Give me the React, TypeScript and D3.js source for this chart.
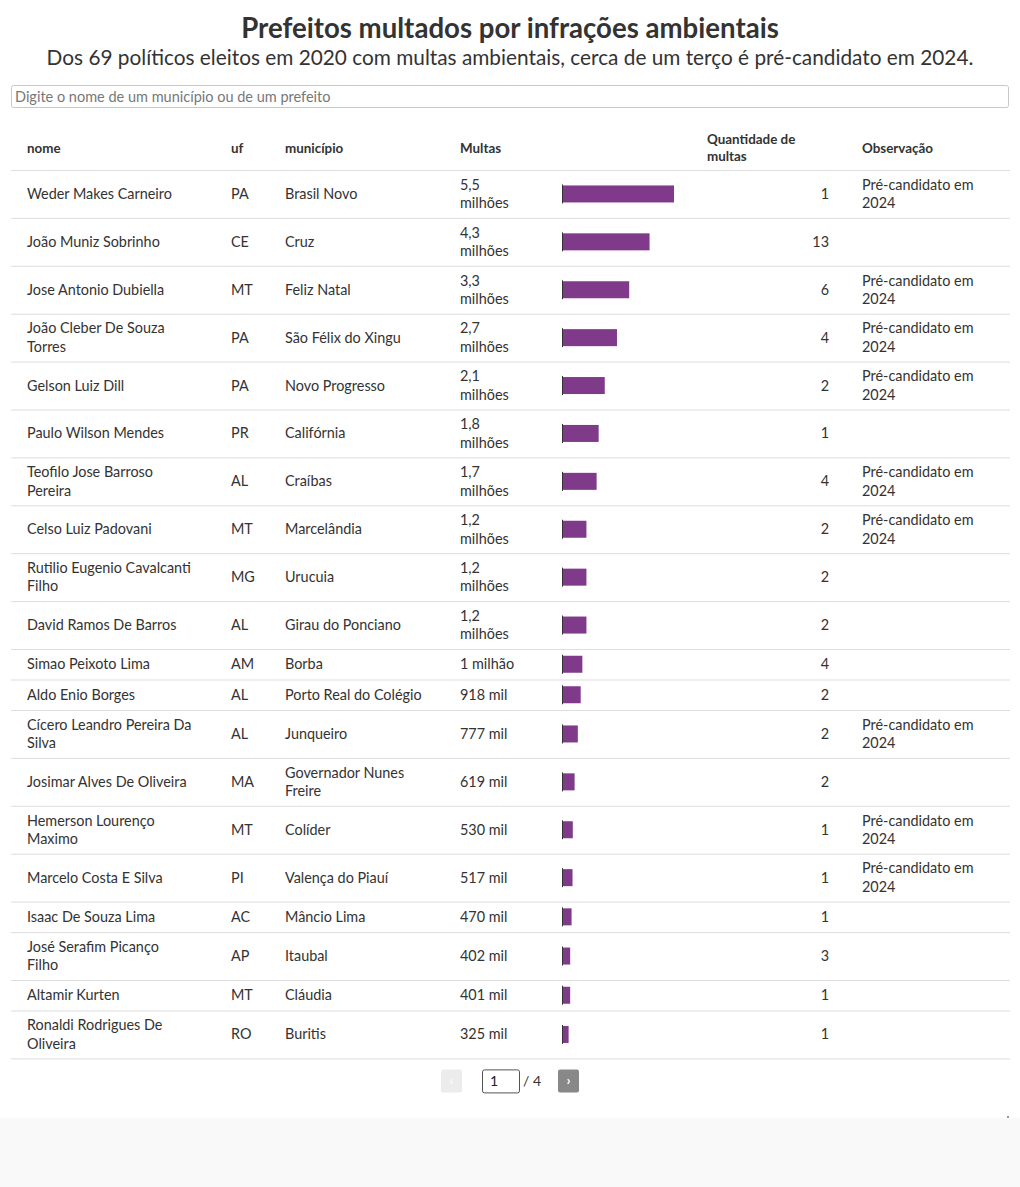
import React from 'react';
import * as d3 from 'd3';

const title = 'Prefeitos multados por infrações ambientais';
const subtitle = 'Dos 69 políticos eleitos em 2020 com multas ambientais, cerca de um terço é pré-candidato em 2024.';
const searchPlaceholder = 'Digite o nome de um município ou de um prefeito';

const headers = ['nome', 'uf', 'município', 'Multas', 'Quantidade de multas', 'Observação'];

const names = [
  'Weder Makes Carneiro', 'João Muniz Sobrinho', 'Jose Antonio Dubiella', 'João Cleber De Souza Torres',
  'Gelson Luiz Dill', 'Paulo Wilson Mendes', 'Teofilo Jose Barroso Pereira', 'Celso Luiz Padovani',
  'Rutilio Eugenio Cavalcanti Filho', 'David Ramos De Barros', 'Simao Peixoto Lima', 'Aldo Enio Borges',
  'Cícero Leandro Pereira Da Silva', 'Josimar Alves De Oliveira', 'Hemerson Lourenço Maximo',
  'Marcelo Costa E Silva', 'Isaac De Souza Lima', 'José Serafim Picanço Filho', 'Altamir Kurten',
  'Ronaldi Rodrigues De Oliveira',
];
const ufs = ['PA', 'CE', 'MT', 'PA', 'PA', 'PR', 'AL', 'MT', 'MG', 'AL', 'AM', 'AL', 'AL', 'MA', 'MT', 'PI', 'AC', 'AP', 'MT', 'RO'];
const municipios = [
  'Brasil Novo', 'Cruz', 'Feliz Natal', 'São Félix do Xingu', 'Novo Progresso', 'Califórnia', 'Craíbas',
  'Marcelândia', 'Urucuia', 'Girau do Ponciano', 'Borba', 'Porto Real do Colégio', 'Junqueiro',
  'Governador Nunes Freire', 'Colíder', 'Valença do Piauí', 'Mâncio Lima', 'Itaubal', 'Cláudia', 'Buritis',
];
const multasValues = [
  5.5e6, 4.3e6, 3.3e6, 2.7e6, 2.1e6, 1.8e6, 1.7e6, 1.2e6, 1.2e6, 1.2e6,
  1.0e6, 918e3, 777e3, 619e3, 530e3, 517e3, 470e3, 402e3, 401e3, 325e3,
];
const multasLabels = [
  '5,5 milhões', '4,3 milhões', '3,3 milhões', '2,7 milhões', '2,1 milhões', '1,8 milhões', '1,7 milhões',
  '1,2 milhões', '1,2 milhões', '1,2 milhões', '1 milhão', '918 mil', '777 mil', '619 mil', '530 mil',
  '517 mil', '470 mil', '402 mil', '401 mil', '325 mil',
];
const quantidades = [1, 13, 6, 4, 2, 1, 4, 2, 2, 2, 4, 2, 2, 2, 1, 1, 1, 3, 1, 1];
const PC = 'Pré-candidato em 2024';
const observacoes = [PC, '', PC, PC, PC, '', PC, PC, '', '', '', '', PC, '', PC, PC, '', '', '', ''];
const totalPages = 4;

const FONT = "Lato, 'Source Sans Pro', 'Noto Sans', sans-serif";
const W = 1020;
const H = 1187;
const BODY_SIZE = 14.4;
const LINE = 18.5;
const PAD = 10.9;
const MIN_ROW = 30.5;

let ctx: CanvasRenderingContext2D | null = null;
function measure(text: string, size: number, weight = 'normal') {
  if (!ctx) ctx = document.createElement('canvas').getContext('2d');
  ctx!.font = `${weight} ${size}px ${FONT}`;
  return ctx!.measureText(text).width;
}
function wrap(text: string, maxW: number, size = BODY_SIZE): string[] {
  if (!text) return [];
  const words = text.split(' ');
  const lines: string[] = [];
  let cur = '';
  for (const w of words) {
    const t = cur ? cur + ' ' + w : w;
    if (cur && measure(t, size) > maxW) {
      lines.push(cur);
      cur = w;
    } else cur = t;
  }
  if (cur) lines.push(cur);
  return lines;
}

export default function App() {
  const textColor = '#333';
  const lineColor = '#ddd';
  const tableLeft = 11;
  const tableRight = 1010;
  const cols = { nome: 27, uf: 231, mun: 285, multas: 460, bar: 562, qtyRight: 829, qtyHeader: 707, obs: 862 };
  const s = BODY_SIZE / 14.6;
  const wraps = { nome: 167.5 * s, mun: 150, multas: 66, obs: 130 };

  const x = d3.scaleLinear().domain([0, d3.max(multasValues) as number]).range([0, 112]);

  const headerTop = 122;
  const headerBottom = 170;

  let y = headerBottom;
  const rows = names.map((n, i) => {
    const cells = {
      nome: wrap(n, wraps.nome),
      uf: [ufs[i]],
      mun: wrap(municipios[i], wraps.mun),
      multas: wrap(multasLabels[i], wraps.multas),
      qty: [String(quantidades[i])],
      obs: wrap(observacoes[i], wraps.obs),
    };
    const nLines = Math.max(...Object.values(cells).map((c) => c.length));
    const h = Math.max(MIN_ROW, nLines * LINE + PAD);
    const r = { top: y, h, cells, i };
    y += h;
    return r;
  });
  const tableBottom = y;

  const renderLines = (lines: string[], xPos: number, cy: number, anchor = 'start', size = BODY_SIZE, weight = 'normal', lh = LINE) => {
    const n = lines.length;
    return (
      <text x={xPos} textAnchor={anchor} fontSize={size} fontWeight={weight} fill={textColor} fontFamily={FONT}>
        {lines.map((l, k) => (
          <tspan key={k} x={xPos} y={cy - (n * lh) / 2 + k * lh + lh / 2} dy="0.35em">
            {l}
          </tspan>
        ))}
      </text>
    );
  };

  const headerCy = (headerTop + headerBottom) / 2 + 2;
  const HS = 13.4;
  const HLH = 17.5;
  const pagY = tableBottom + 11;

  return (
    <svg width={W} height={H} style={{ position: 'absolute', left: 0, top: 0 }} fontFamily={FONT}>
      <rect x={0} y={0} width={W} height={H} fill="#fff" />
      <rect x={0} y={1118} width={W} height={H - 1118} fill="#f9f9f9" />
      <rect x={1007} y={1116} width={2} height={2} fill="#999" />

      <text x={W / 2} y={38} textAnchor="middle" fontSize={27.6} fontWeight="bold" fill={textColor}>
        {title}
      </text>
      <text x={W / 2} y={65} textAnchor="middle" fontSize={20.8} fill={textColor}>
        {subtitle}
      </text>

      <rect x={11.5} y={85.5} width={997} height={22} rx={2} fill="#fff" stroke="#c8c8c8" />
      <text x={15} y={101.5} fontSize={14.5} fill="#777">
        {searchPlaceholder}
      </text>

      {/* header */}
      {renderLines([headers[0]], cols.nome, headerCy, 'start', HS, 'bold', HLH)}
      {renderLines([headers[1]], cols.uf, headerCy, 'start', HS, 'bold', HLH)}
      {renderLines([headers[2]], cols.mun, headerCy, 'start', HS, 'bold', HLH)}
      {renderLines([headers[3]], cols.multas, headerCy, 'start', HS, 'bold', HLH)}
      {renderLines(['Quantidade de', 'multas'], cols.qtyHeader, headerCy, 'start', HS, 'bold', HLH)}
      {renderLines([headers[5]], cols.obs, headerCy, 'start', HS, 'bold', HLH)}
      <line x1={tableLeft} x2={tableRight} y1={headerBottom + 0.5} y2={headerBottom + 0.5} stroke={lineColor} />

      {rows.map((r) => {
        const cy = r.top + r.h / 2;
        const barH = 17;
        return (
          <g key={r.i}>
            {renderLines(r.cells.nome, cols.nome, cy)}
            {renderLines(r.cells.uf, cols.uf, cy)}
            {renderLines(r.cells.mun, cols.mun, cy)}
            {renderLines(r.cells.multas, cols.multas, cy)}
            <rect x={cols.bar + x(0)} y={cy - barH / 2} width={x(multasValues[r.i])} height={barH} fill="#7f3a8a" />
            <line x1={cols.bar + 0.5} x2={cols.bar + 0.5} y1={cy - barH / 2 - 1} y2={cy + barH / 2 + 1} stroke="#333" />
            {renderLines(r.cells.qty, cols.qtyRight, cy, 'end')}
            {renderLines(r.cells.obs, cols.obs, cy)}
            <line x1={tableLeft} x2={tableRight} y1={r.top + r.h + 0.5} y2={r.top + r.h + 0.5} stroke={lineColor} />
          </g>
        );
      })}

      {/* pagination */}
      <rect x={441} y={pagY} width={21} height={23} rx={2} fill="#ececec" />
      <text x={451.5} y={pagY + 16} textAnchor="middle" fontSize={14} fontWeight="bold" fill="#fafafa">‹</text>
      <rect x={482.5} y={pagY + 0.5} width={37} height={23} rx={2} fill="#fff" stroke="#555" />
      <text x={490} y={pagY + 17} fontSize={14} fill="#222">1</text>
      <text x={523} y={pagY + 17} fontSize={14} fill="#333">{`/ ${totalPages}`}</text>
      <rect x={558} y={pagY} width={21} height={23} rx={2} fill="#888" />
      <text x={568.5} y={pagY + 16} textAnchor="middle" fontSize={14} fontWeight="bold" fill="#fff">›</text>
    </svg>
  );
}
